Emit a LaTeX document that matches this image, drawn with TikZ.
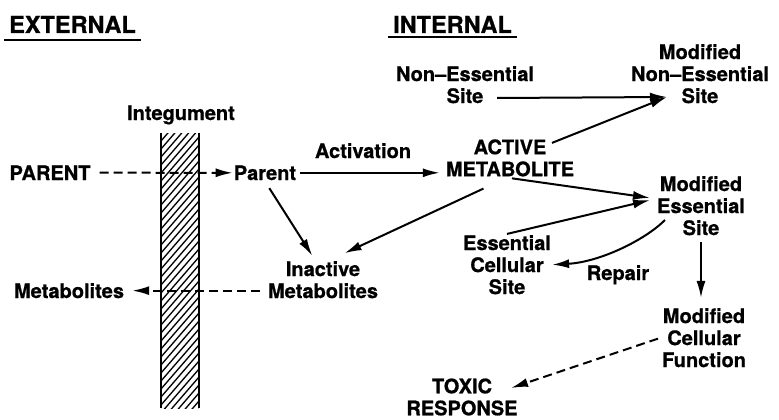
\documentclass[tikz,border=0pt]{standalone}
\usepackage{fontspec}
\setmainfont{TeX Gyre Heros}[BoldFeatures={FakeBold=0.8}]
\usetikzlibrary{arrows.meta,calc}
\begin{document}
\begin{tikzpicture}[x=1pt,y=-1pt,
  lbl/.style={font=\fontsize{20}{22}\selectfont\bfseries, inner sep=1pt, align=center},
  hdr/.style={font=\fontsize{23.5}{26}\selectfont\bfseries, inner sep=1pt},
  conn/.style={line width=2pt, -{Latex[length=17pt,width=9pt]}},
  dconn/.style={conn, dash pattern=on 9pt off 5pt},
  uline/.style={line width=2pt},
  wall/.style={line width=2pt},
  hatch/.style={line width=1.3pt}
]
\useasboundingbox (0,0) rectangle (779,420);

% headers
\node[hdr, anchor=base] (ext) at (72.5,33) {EXTERNAL};
\node[hdr, anchor=base] (int) at (452.5,33) {INTERNAL};
\draw[uline] ([shift={(-4,6)}]ext.south west) -- ([shift={(4,6)}]ext.south east);
\draw[uline] ([shift={(-4,3)}]int.south west) -- ([shift={(4,3)}]int.south east);

% integument
\node[lbl, anchor=base] (integ) at (181,120) {Integument};
\begin{scope}
  \clip (161,133) rectangle (199,408);
  \foreach \k in {0,...,40}
    \draw[hatch] (161,133+\k*8) -- (199,133+\k*8-44);
\end{scope}
\draw[wall] (161,133) -- (161,408);
\draw[wall] (199,133) -- (199,408);

% nodes
\node[lbl, anchor=base] (PAR) at (50,180) {PARENT};
\node[lbl, anchor=base] (par) at (265,180) {Parent};
\node[lbl, anchor=base] (actv) at (363,158) {Activation};
\node[lbl] (nes) at (465,84.7) {Non\textendash Essential\\Site};
\node[lbl] (mnes) at (700,73.7) {Modified\\Non\textendash Essential\\Site};
\node[lbl] (act) at (510,157.9) {ACTIVE\\METABOLITE};
\node[lbl] (me) at (701,205.7) {Modified\\Essential\\Site};
\node[lbl] (ecs) at (507,264.7) {Essential\\Cellular\\Site};
\node[lbl, anchor=base] (rep) at (618,280) {Repair};
\node[lbl] (inact) at (323,279.7) {Inactive\\Metabolites};
\node[lbl, anchor=base] (met) at (69,298) {Metabolites};
\node[lbl] (mcf) at (704,337.7) {Modified\\Cellular\\Function};
\node[lbl] (tox) at (462,397) {TOXIC\\RESPONSE};

% connectors
\draw[dconn, shorten <=8pt] (PAR.east) -- (par.west);
\draw[conn, shorten <=3pt, shorten >=5pt] (par.east) -- (par.east -| act.west);
\draw[conn, shorten <=8pt, shorten >=5pt] (par.south) -- ([xshift=-8pt]inact.north);
\draw[conn, shorten <=26pt, shorten >=16pt] ([xshift=-3pt]act.south) -- ([xshift=7pt]inact.north);
\draw[conn] ([shift={(32,13.3)}]nes.center) -- ([shift={(-33,23.3)}]mnes.center);
\draw[conn] ([shift={(42,-15)}]act.center) -- ([shift={(-33,23.3)}]mnes.center);
\draw[conn, shorten <=5pt, shorten >=6pt] ([xshift=-3pt]act.south) -- ([yshift=7pt]me.west);
\draw[conn, shorten >=6pt] (ecs.north) -- ([yshift=7pt]me.west);
\draw[conn] ([shift={(-36,14.3)}]me.center) .. controls (645,240) and (600,262) .. (ecs.east);
\draw[conn, shorten <=6pt, shorten >=9pt] (me.south) -- (me.south |- mcf.north);
\draw[dconn, shorten <=3pt] (mcf.west) -- ([shift={(49,-9)}]tox.center);
\draw[dconn, shorten <=7pt, shorten >=7pt] (inact.west |- met.east) -- (met.east);
\end{tikzpicture}
\end{document}
